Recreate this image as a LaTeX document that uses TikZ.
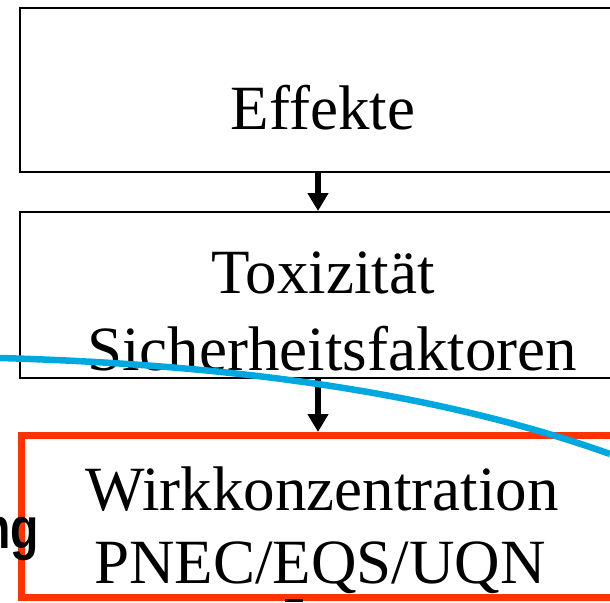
\documentclass[tikz,border=0pt]{standalone}
\usepackage{fontspec}
\setmainfont{Liberation Serif}
\newfontfamily\labelsans{Liberation Sans}
\usetikzlibrary{arrows.meta}
\definecolor{boxred}{RGB}{255,51,0}
\definecolor{curveblue}{RGB}{0,168,224}
\tikzset{
  plainbox/.style={draw=black, line width=2pt, minimum width=596pt, inner sep=0pt},
  redbox/.style={draw=boxred, line width=7pt, minimum width=593pt, inner sep=0pt},
  bigtext/.style={font=\fontsize{63}{75}\selectfont, inner sep=0pt, anchor=base},
  flowarrow/.style={line width=5.5pt, -{Triangle[length=18pt,width=20pt]}},
  bluecurve/.style={draw=curveblue, line width=6.5pt}
}
\begin{document}
\begin{tikzpicture}[x=1pt,y=-1pt]
\useasboundingbox (0,0) rectangle (610,602);
\clip (0,0) rectangle (610,602);
\node[plainbox, minimum height=164pt] (b1) at (318,90) {};
\node[plainbox, minimum height=166pt] (b2) at (318,295) {};
\node[redbox, minimum height=162pt] (b3) at (318,516.5) {};
\node[bigtext] (t1) at (323,129) {Effekte};
\node[bigtext] (t2) at (323,293) {Toxizität};
\node[bigtext] (t3) at (332,370) {Sicherheitsfaktoren};
\node[bigtext] (t4) at (322,510) {Wirkkonzentration};
\node[bigtext] (t5) at (320,583) {PNEC/EQS/UQN};
\draw[flowarrow] (b1.south) -- (b2.north);
\draw[flowarrow] (b2.south) -- (b3.north);
\node[anchor=base east, inner sep=0pt, font=\labelsans\bfseries\fontsize{58}{60}\selectfont] (ng) at (39,548) {\scalebox{0.8}[1]{ng}};
\coordinate (c0) at (0,358);
\coordinate (c1) at (610,454);
\draw[bluecurve] (c0) .. controls (210,364) and (425,388) .. (c1);
\fill[black] (285,599) rectangle (303,602);
\end{tikzpicture}
\end{document}
